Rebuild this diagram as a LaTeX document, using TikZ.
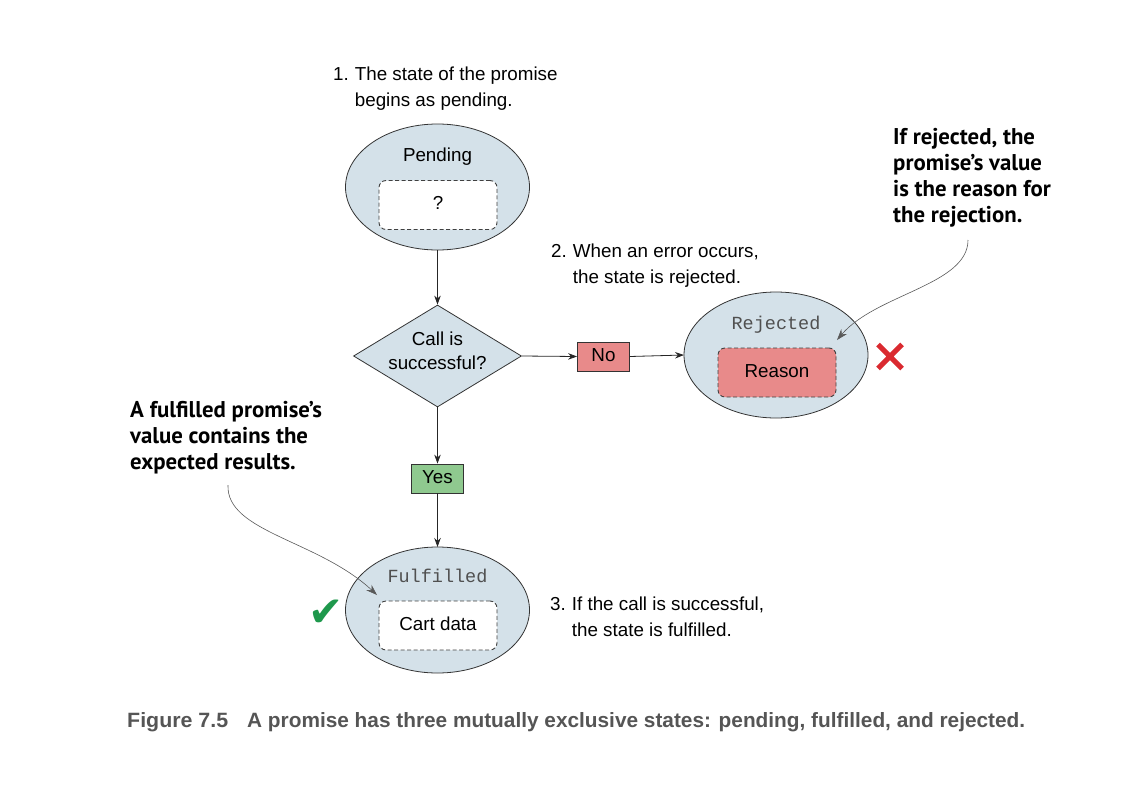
\documentclass[tikz,border=0pt]{standalone}
\usepackage{fontspec}
\setmainfont{Liberation Sans}
\newfontfamily\monof{Liberation Mono}
\newfontfamily\annof{PT Sans}
\newfontfamily\symf{DejaVu Sans}
\usetikzlibrary{shapes.geometric,arrows.meta}
\definecolor{stateblue}{RGB}{212,225,233}
\definecolor{nored}{RGB}{232,138,138}
\definecolor{yesgreen}{RGB}{143,201,143}
\definecolor{xred}{RGB}{218,42,48}
\definecolor{okgreen}{RGB}{30,152,76}
\definecolor{monogray}{RGB}{80,80,80}
\definecolor{capgray}{RGB}{85,85,85}
\tikzset{
  statenode/.style={ellipse, draw=black!80, fill=stateblue, line width=0.8pt,
    minimum width=184pt, minimum height=126pt, inner sep=0pt, outer sep=0pt},
  valbox/.style={draw=black!75, dash pattern=on 4pt off 2.5pt, rounded corners=7pt,
    line width=0.9pt, minimum width=118pt, minimum height=49pt, inner sep=0pt,
    fill=white, text height=13.3pt, text depth=3.9pt},
  decision/.style={diamond, draw=black!80, fill=stateblue, line width=0.8pt,
    minimum width=168pt, minimum height=102pt, inner sep=0pt, aspect=1.65},
  lblbox/.style={draw=black!80, line width=0.8pt, minimum width=52pt,
    minimum height=29pt, inner sep=0pt, text height=13.3pt, text depth=3.9pt},
  arr/.style={-{Stealth[length=9pt,width=6.5pt]}, line width=0.8pt, draw=black!85},
  callout/.style={-{Stealth[length=11pt,width=7.5pt]}, line width=0.6pt, draw=black!65},
  note/.style={anchor=base west, inner sep=0pt},
  boldnote/.style={anchor=base west, inner sep=0pt, align=left,
    font=\annof\bfseries\fontsize{22.8}{26}\selectfont},
  monolbl/.style={anchor=base, inner sep=0pt, text=monogray,
    font=\monof\fontsize{18.5}{22}\selectfont},
  plainlbl/.style={anchor=base, inner sep=0pt}
}
\begin{document}
\begin{tikzpicture}[x=1pt,y=-1pt,font=\fontsize{18.8}{26}\selectfont]
\useasboundingbox (0,0) rectangle (1138,798);

% states
\node[statenode] (pend) at (437.5,187) {};
\node[plainlbl] (pendt) at (437.5,161.5) {Pending};
\node[valbox] (pendv) at (438,205) {?};

\node[decision] (dec) at (437.5,356) {};
\node[plainlbl, align=center] (dect) at (437.5,369) {Call is\\[-2.5pt]successful?};

\node[lblbox, fill=nored] (no) at (603.5,356.5) {No};

\node[statenode] (rej) at (776,355) {};
\node[monolbl] (rejt) at (776,329) {Rejected};
\node[valbox, fill=nored] (rejv) at (777,372.5) {Reason};

\node[lblbox, fill=yesgreen] (yes) at (437.5,478.5) {Yes};

\node[statenode] (ful) at (437.5,610) {};
\node[monolbl] (fult) at (437.5,582) {Fulfilled};
\node[valbox] (fulv) at (438,625.5) {Cart data};

% connectors
\draw[arr] (pend.south) -- (dec.north);
\draw[arr] (dec.east) -- (no.west);
\draw[arr] (no.east) -- (rej.west);
\draw[arr] (dec.south) -- (yes.north);
\draw[arr] (yes.south) -- (ful.north);

% marks
\node[inner sep=0pt, text=okgreen, font=\symf\fontsize{42}{42}\selectfont] (check) at (326,613) {✔};
\coordinate (xc) at (890,356.5);
\draw[xred, line width=5pt] ([shift={(-12,-12)}]xc) -- ([shift={(12,12)}]xc)
  ([shift={(12,-12)}]xc) -- ([shift={(-12,12)}]xc);

% step notes
\node[note] (n1) at (333,80) {\begin{tabular}[t]{@{}l@{\hspace{6pt}}l@{}}1. & The state of the promise\\ & begins as pending.\end{tabular}};
\node[note] (n2) at (551,257) {\begin{tabular}[t]{@{}l@{\hspace{6pt}}l@{}}2. & When an error occurs,\\ & the state is rejected.\end{tabular}};
\node[note] (n3) at (550,610) {\begin{tabular}[t]{@{}l@{\hspace{6pt}}l@{}}3. & If the call is successful,\\ & the state is fulfilled.\end{tabular}};

% bold callouts
\node[boldnote] (br) at (893,144) {\begin{tabular}[t]{@{}l@{}}If rejected, the\\promise’s value\\is the reason for\\the rejection.\end{tabular}};
\node[boldnote] (bl) at (130,417) {\begin{tabular}[t]{@{}l@{}}A fulfilled promise’s\\value contains the\\expected results.\end{tabular}};

\coordinate (cr0) at (968,240);
\coordinate (cr1) at (837,340);
\draw[callout] (cr0) .. controls (968,285) and (876,294) .. (cr1);
\coordinate (cl0) at (228,485);
\coordinate (cl1) at (377,595);
\draw[callout] (cl0) .. controls (226,532) and (318,540) .. (cl1);

% caption
\node[anchor=base west, inner sep=0pt, text=capgray] (figno) at (127,727)
  {\resizebox{101pt}{15pt}{\bfseries Figure 7.5}};
\node[anchor=base west, inner sep=0pt, text=capgray] (cap) at (247,727)
  {\resizebox{778pt}{15pt}{\bfseries A promise has three mutually exclusive states: pending, fulfilled, and rejected.}};
\end{tikzpicture}
\end{document}
